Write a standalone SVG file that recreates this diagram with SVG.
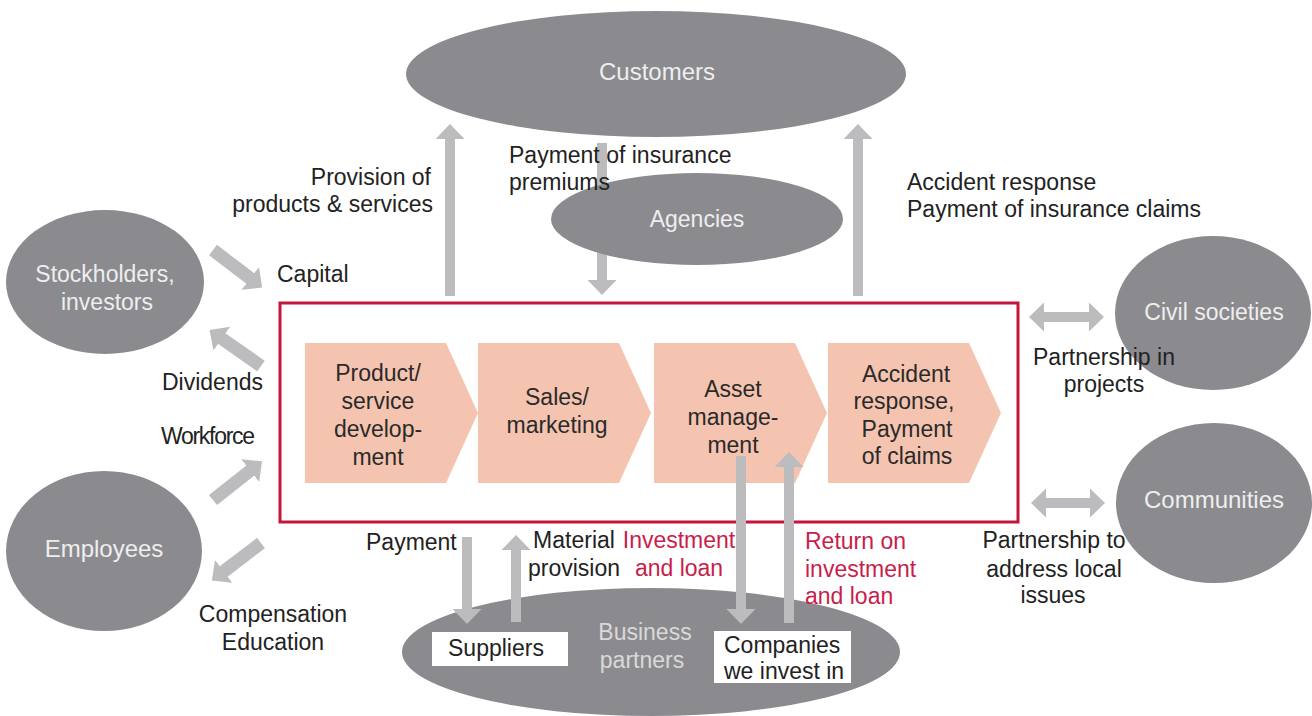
<svg xmlns="http://www.w3.org/2000/svg" width="1312" height="716" viewBox="0 0 1312 716">
  <style>
    text { font-family: "Liberation Sans", Arial, sans-serif; }
    .oval { fill: #8b8b8f; }
    .nodetxt { fill: #eeeeee; font-size: 23px; text-anchor: middle; }
    .big { font-size: 24px; }
    .pale { fill: #d9d9d9; }
    .lbl { fill: #222; font-size: 23px; }
    .mid { text-anchor: middle; }
    .end { text-anchor: end; }
    .red { fill: #c81e4b; }
    .step { fill: #f5c4b0; }
    .steptxt { fill: #2a2a2a; font-size: 23px; text-anchor: middle; }
    .box { fill: #ffffff; }
    .flow { stroke: #bcbcbe; stroke-width: 10; fill: none; }
    .diag { stroke-width: 13; }
  </style>
  <defs>
    <!-- wide arrowhead used by all grey flow arrows -->
    <marker id="head" markerUnits="userSpaceOnUse" viewBox="0 0 15 29" markerWidth="15" markerHeight="29" refX="1" refY="14.5" orient="auto-start-reverse">
      <path d="M0,0 L15,14.5 L0,29 Z" fill="#bcbcbe"/>
    </marker>
  </defs>

  <rect width="1312" height="716" fill="#ffffff"/>

  <!-- outer stakeholder ovals -->
  <g id="customers">
    <ellipse class="oval" cx="656" cy="74" rx="250" ry="63"/>
    <text class="nodetxt big" x="657" y="80">Customers</text>
  </g>
  <g id="stockholders">
    <ellipse class="oval" cx="105" cy="282" rx="99" ry="72"/>
    <text class="nodetxt" x="105" y="282">Stockholders,</text>
    <text class="nodetxt" x="107" y="310">investors</text>
  </g>
  <g id="employees">
    <ellipse class="oval" cx="104" cy="551" rx="98" ry="80"/>
    <text class="nodetxt big" x="104" y="557">Employees</text>
  </g>
  <g id="civil-societies">
    <ellipse class="oval" cx="1213" cy="313" rx="98" ry="77"/>
    <text class="nodetxt" x="1214" y="320">Civil societies</text>
  </g>
  <g id="communities">
    <ellipse class="oval" cx="1214" cy="503" rx="98" ry="80"/>
    <text class="nodetxt big" x="1214" y="508">Communities</text>
  </g>
  <g id="business-partners">
    <ellipse class="oval" cx="651" cy="652" rx="249" ry="64"/>
    <text class="nodetxt pale" x="645" y="640">Business</text>
    <text class="nodetxt pale" x="642" y="668">partners</text>
  </g>

  <!-- company value chain -->
  <g id="value-chain">
    <rect x="280" y="303" width="738" height="219" fill="none" stroke="#c4163c" stroke-width="3"/>
    <g id="step-development">
      <path class="step" d="M305,343 H446 L478,413 L446,483 H305 Z"/>
      <text class="steptxt" x="378" y="381">Product/</text>
      <text class="steptxt" x="378" y="409">service</text>
      <text class="steptxt" x="378" y="437">develop-</text>
      <text class="steptxt" x="378" y="465">ment</text>
    </g>
    <g id="step-sales">
      <path class="step" d="M478,343 H619 L651,413 L619,483 H478 Z"/>
      <text class="steptxt" x="557" y="405">Sales/</text>
      <text class="steptxt" x="557" y="433">marketing</text>
    </g>
    <g id="step-assets">
      <path class="step" d="M654,343 H795 L827,413 L795,483 H654 Z"/>
      <text class="steptxt" x="733" y="397">Asset</text>
      <text class="steptxt" x="733" y="425">manage-</text>
      <text class="steptxt" x="733" y="453">ment</text>
    </g>
    <g id="step-claims">
      <path class="step" d="M828,343 H969 L1001,413 L969,483 H828 Z"/>
      <text class="steptxt" x="906" y="382">Accident</text>
      <text class="steptxt" x="904" y="409">response,</text>
      <text class="steptxt" x="907" y="437">Payment</text>
      <text class="steptxt" x="907" y="464">of claims</text>
    </g>
  </g>

  <!-- flows between the company and its stakeholders -->
  <g id="connectors">
    <line class="flow" x1="450" y1="296" x2="450" y2="138" marker-end="url(#head)"/>
    <line class="flow" x1="602" y1="143" x2="602" y2="281" marker-end="url(#head)"/>
    <line class="flow" x1="858" y1="296" x2="858" y2="138" marker-end="url(#head)"/>
    <line class="flow diag" x1="213" y1="250" x2="251" y2="279" marker-end="url(#head)"/>
    <line class="flow diag" x1="261" y1="366" x2="221" y2="338" marker-end="url(#head)"/>
    <line class="flow diag" x1="213" y1="500" x2="251" y2="470" marker-end="url(#head)"/>
    <line class="flow diag" x1="261" y1="543" x2="223" y2="572" marker-end="url(#head)"/>
    <line class="flow" x1="1043" y1="317" x2="1090" y2="317" marker-start="url(#head)" marker-end="url(#head)"/>
    <line class="flow" x1="1045" y1="503" x2="1091" y2="503" marker-start="url(#head)" marker-end="url(#head)"/>
    <line class="flow" x1="467" y1="537" x2="467" y2="610" marker-end="url(#head)"/>
    <line class="flow" x1="516" y1="622" x2="516" y2="549" marker-end="url(#head)"/>
    <line class="flow" x1="741" y1="456" x2="741" y2="610" marker-end="url(#head)"/>
    <line class="flow" x1="789" y1="623" x2="789" y2="466" marker-end="url(#head)"/>
  </g>

  <g id="agencies">
    <ellipse class="oval" cx="697" cy="219" rx="146" ry="46"/>
    <text class="nodetxt" x="697" y="227">Agencies</text>
  </g>

  <g id="suppliers">
    <rect class="box" x="432" y="632" width="136" height="34"/>
    <text class="lbl" x="448" y="656">Suppliers</text>
  </g>
  <g id="investees">
    <rect class="box" x="714" y="631" width="137" height="52"/>
    <text class="lbl" x="724" y="653">Companies</text>
    <text class="lbl" x="724" y="679">we invest in</text>
  </g>

  <!-- flow labels -->
  <g id="labels">
    <text class="lbl end" x="431" y="185">Provision of</text>
    <text class="lbl end" x="433" y="212">products &amp; services</text>
    <text class="lbl" x="509" y="163">Payment of insurance</text>
    <text class="lbl" x="509" y="190">premiums</text>
    <text class="lbl" x="907" y="190">Accident response</text>
    <text class="lbl" x="907" y="217">Payment of insurance claims</text>
    <text class="lbl" x="277" y="282">Capital</text>
    <text class="lbl" x="162" y="390">Dividends</text>
    <text class="lbl" x="161" y="444" font-size="18" textLength="94">Workforce</text>
    <text class="lbl mid" x="273" y="622">Compensation</text>
    <text class="lbl mid" x="273" y="650">Education</text>
    <text class="lbl mid" x="1104" y="365">Partnership in</text>
    <text class="lbl mid" x="1104" y="392">projects</text>
    <text class="lbl mid" x="1054" y="548">Partnership to</text>
    <text class="lbl mid" x="1054" y="577">address local</text>
    <text class="lbl mid" x="1053" y="603">issues</text>
    <text class="lbl" x="366" y="550">Payment</text>
    <text class="lbl mid" x="574" y="548">Material</text>
    <text class="lbl mid" x="574" y="576">provision</text>
    <text class="lbl mid red" x="679" y="548">Investment</text>
    <text class="lbl mid red" x="679" y="576">and loan</text>
    <text class="lbl red" x="805" y="549">Return on</text>
    <text class="lbl red" x="805" y="577">investment</text>
    <text class="lbl red" x="805" y="604">and loan</text>
  </g>
</svg>
